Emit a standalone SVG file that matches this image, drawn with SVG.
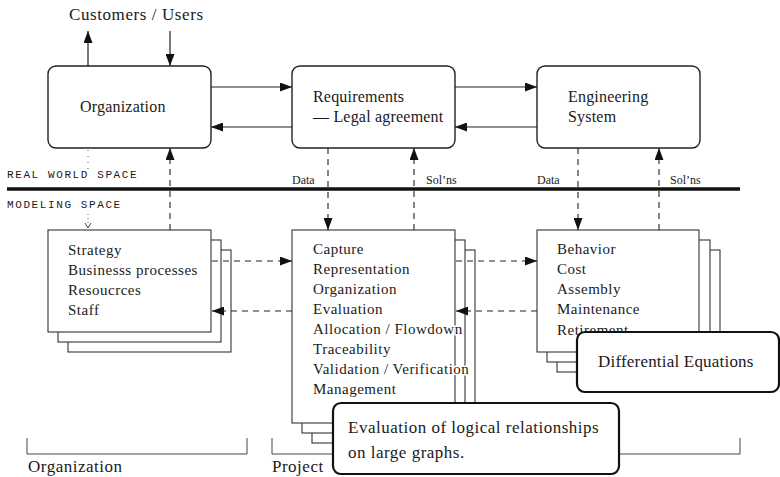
<svg xmlns="http://www.w3.org/2000/svg" width="780" height="477" viewBox="0 0 780 477">
<style>
.t{font-family:"Liberation Serif","Times New Roman",serif;fill:#1a1a1a;}
.top{font-size:16px;letter-spacing:0.2px;}
.body{font-size:15px;letter-spacing:0.5px;}
.halo{paint-order:stroke;stroke:#fff;stroke-width:3px;stroke-linejoin:round;}
.mono{font-family:"Liberation Mono","Courier New",monospace;font-size:11px;letter-spacing:1.6px;fill:#1a1a1a;}
.small{font-size:12px;}
.big{font-size:17px;letter-spacing:0.5px;}
.rbox{fill:#fff;stroke:#222;stroke-width:1.4;}
.sbox{fill:#fff;stroke:#333;stroke-width:1.1;}
.call{fill:#fff;stroke:#111;stroke-width:2.2;}
.solid{fill:none;stroke:#222;stroke-width:1.2;}
.dash{fill:none;stroke:#222;stroke-width:1.1;stroke-dasharray:6 5;}
.brk{fill:none;stroke:#444;stroke-width:1;}
</style>
<defs>
<marker id="ah" markerUnits="userSpaceOnUse" markerWidth="13" markerHeight="9" refX="12" refY="4.5" orient="auto">
<path d="M0,0 L12,4.5 L0,9 Z" fill="#111"/>
</marker>
<marker id="sh" markerUnits="userSpaceOnUse" markerWidth="8" markerHeight="8" refX="4" refY="6" orient="0">
<path d="M1,1 L4,6 L7,1" fill="none" stroke="#333" stroke-width="0.9"/>
</marker>
</defs>
<rect width="780" height="477" fill="#fff"/>

<!-- Labels in the space divider -->
<g id="divider">
<line x1="7" y1="189" x2="740" y2="189" stroke="#111" stroke-width="3.5"/>
<text class="mono" x="7" y="178">REAL WORLD SPACE</text>
<text class="mono" x="7" y="208">MODELING SPACE</text>
</g>

<g id="customers">
<text class="t" x="69" y="20" font-size="17" textLength="134" lengthAdjust="spacing">Customers / Users</text>
</g>

<!-- Top nodes -->
<g id="organization">
<rect class="rbox" x="48" y="66" width="163" height="82" rx="8"/>
<text class="t top" x="80" y="112">Organization</text>
</g>
<g id="requirements">
<rect class="rbox" x="292" y="66" width="163" height="82" rx="8"/>
<text class="t top" x="313" y="102">Requirements</text>
<text class="t top" x="313" y="122">— Legal agreement</text>
</g>
<g id="engineering">
<rect class="rbox" x="537" y="66" width="163" height="82" rx="8"/>
<text class="t top" x="568" y="102">Engineering</text>
<text class="t top" x="568" y="122">System</text>
</g>

<!-- Bottom stacked nodes -->
<g id="org-model">
<rect class="sbox" x="68" y="250" width="163" height="102"/>
<rect class="sbox" x="58" y="240" width="163" height="102"/>
<rect class="sbox" x="48" y="230" width="163" height="102"/>
<text class="t body" x="68" y="255">Strategy</text>
<text class="t body" x="68" y="275">Businesss processes</text>
<text class="t body" x="68" y="295">Resoucrces</text>
<text class="t body" x="68" y="315">Staff</text>
</g>
<g id="req-model">
<rect class="sbox" x="312" y="250" width="163" height="193"/>
<rect class="sbox" x="302" y="240" width="163" height="193"/>
<rect class="sbox" x="292" y="230" width="163" height="193"/>
<text class="t body halo" x="313" y="254">Capture</text>
<text class="t body halo" x="313" y="274">Representation</text>
<text class="t body halo" x="313" y="294">Organization</text>
<text class="t body halo" x="313" y="314">Evaluation</text>
<text class="t body halo" x="313" y="334">Allocation / Flowdown</text>
<text class="t body halo" x="313" y="354">Traceability</text>
<text class="t body halo" x="313" y="374">Validation / Verification</text>
<text class="t body halo" x="313" y="394">Management</text>
</g>
<g id="eng-model">
<rect class="sbox" x="557" y="250" width="163" height="122"/>
<rect class="sbox" x="547" y="240" width="163" height="122"/>
<rect class="sbox" x="537" y="230" width="162" height="122"/>
<text class="t body" x="557" y="254">Behavior</text>
<text class="t body" x="557" y="274">Cost</text>
<text class="t body" x="557" y="294">Assembly</text>
<text class="t body" x="557" y="314">Maintenance</text>
<text class="t body" x="557" y="335">Retirement</text>
</g>

<!-- Connectors -->
<g id="connectors">
<line class="solid" x1="88" y1="66" x2="88" y2="31" marker-end="url(#ah)"/>
<line class="solid" x1="170" y1="31" x2="170" y2="66" marker-end="url(#ah)"/>
<line class="solid" x1="211" y1="87" x2="292" y2="87" marker-end="url(#ah)"/>
<line class="solid" x1="292" y1="127" x2="211" y2="127" marker-end="url(#ah)"/>
<line class="solid" x1="455" y1="87" x2="537" y2="87" marker-end="url(#ah)"/>
<line class="solid" x1="537" y1="127" x2="455" y2="127" marker-end="url(#ah)"/>
<line x1="88" y1="150" x2="88" y2="171" stroke="#555" stroke-width="1" stroke-dasharray="1 5"/>
<line x1="88" y1="214" x2="88" y2="228" stroke="#555" stroke-width="0.9" stroke-dasharray="1 3" marker-end="url(#sh)"/>
<line class="dash" x1="170" y1="230" x2="170" y2="148" marker-end="url(#ah)"/>
<line class="dash" x1="328" y1="148" x2="328" y2="230" marker-end="url(#ah)"/>
<line class="dash" x1="414" y1="230" x2="414" y2="148" marker-end="url(#ah)"/>
<line class="dash" x1="578" y1="148" x2="578" y2="230" marker-end="url(#ah)"/>
<line class="dash" x1="659" y1="230" x2="659" y2="148" marker-end="url(#ah)"/>
<line class="dash" x1="212" y1="261" x2="292" y2="261" marker-end="url(#ah)"/>
<line class="dash" x1="292" y1="311" x2="212" y2="311" marker-end="url(#ah)"/>
<line class="dash" x1="456" y1="261" x2="537" y2="261" marker-end="url(#ah)"/>
<line class="dash" x1="537" y1="311" x2="456" y2="311" marker-end="url(#ah)"/>
</g>

<g id="flow-labels">
<text class="t small" x="292" y="184">Data</text>
<text class="t small" x="426" y="184">Sol’ns</text>
<text class="t small" x="537" y="184">Data</text>
<text class="t small" x="670" y="184">Sol’ns</text>
</g>

<!-- Brackets -->
<g id="bracket-organization">
<path class="brk" d="M27,438 V454 H247 V438"/>
<text class="t big" x="28" y="472">Organization</text>
</g>
<g id="bracket-project">
<path class="brk" d="M272,438 V454 H740 V438"/>
<text class="t big" x="272" y="472">Project</text>
</g>

<!-- Callouts -->
<g id="callout-differential">
<rect class="call" x="577" y="332" width="202" height="60" rx="8"/>
<text class="t" x="598" y="367" font-size="17" letter-spacing="0.2">Differential Equations</text>
</g>
<g id="callout-logical">
<rect class="call" x="333" y="403" width="286" height="71" rx="8"/>
<text class="t big" x="348" y="433">Evaluation of logical relationships</text>
<text class="t big" x="348" y="458">on large graphs.</text>
</g>
</svg>
